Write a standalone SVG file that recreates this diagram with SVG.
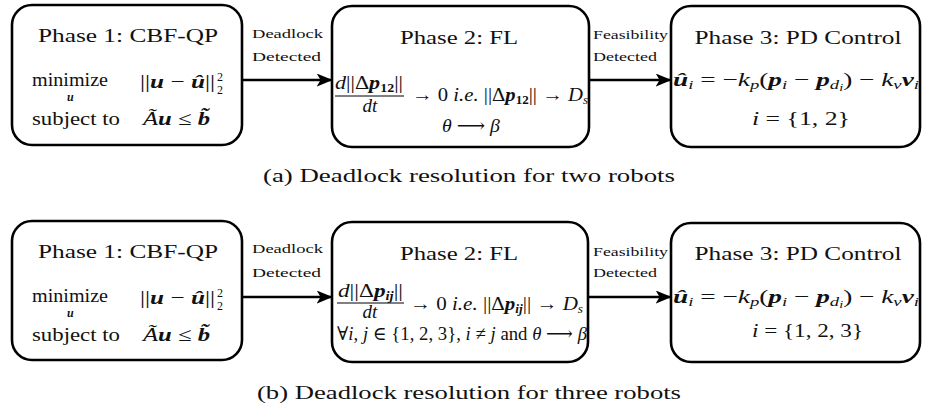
<svg xmlns="http://www.w3.org/2000/svg" width="925" height="407" viewBox="0 0 925 407" font-family="'Liberation Serif', 'DejaVu Serif', serif">
<defs>
<style>
text{fill:#111}
.box{fill:#fff;stroke:#000;stroke-width:2.6}
.ttl{font-size:19px;text-anchor:middle}
.lbl{font-size:13.5px}
.lbl2{font-size:12.5px}
.m{font-size:19px}
.it{font-style:italic}
.bi{font-style:italic;font-weight:bold}
.cap{font-size:19px;text-anchor:middle}
.conn{stroke:#000;stroke-width:2.6;fill:none}
</style>
<marker id="arr" viewBox="0 0 12 10" refX="11" refY="5" markerWidth="6" markerHeight="5" markerUnits="strokeWidth" orient="auto">
<path d="M0,0 L12,5 L0,10 L3,5 Z" fill="#000"/>
</marker>
</defs>
<rect width="925" height="407" fill="#fff"/>

<g id="connectors">
<line class="conn" x1="242" y1="80" x2="331" y2="80" marker-end="url(#arr)"/>
<line class="conn" x1="589" y1="80" x2="670" y2="80" marker-end="url(#arr)"/>
<line class="conn" x1="242" y1="297" x2="331" y2="297" marker-end="url(#arr)"/>
<line class="conn" x1="588" y1="297" x2="670" y2="297" marker-end="url(#arr)"/>
<text class="lbl" x="252" y="38" textLength="71" lengthAdjust="spacingAndGlyphs">Deadlock</text>
<text class="lbl" x="252" y="61" textLength="69" lengthAdjust="spacingAndGlyphs">Detected</text>
<text class="lbl2" x="593" y="39" textLength="75" lengthAdjust="spacingAndGlyphs">Feasibility</text>
<text class="lbl2" x="593" y="61" textLength="64" lengthAdjust="spacingAndGlyphs">Detected</text>
<text class="lbl" x="252" y="253" textLength="71" lengthAdjust="spacingAndGlyphs">Deadlock</text>
<text class="lbl" x="252" y="277" textLength="69" lengthAdjust="spacingAndGlyphs">Detected</text>
<text class="lbl2" x="593" y="256" textLength="75" lengthAdjust="spacingAndGlyphs">Feasibility</text>
<text class="lbl2" x="593" y="277" textLength="64" lengthAdjust="spacingAndGlyphs">Detected</text>
</g>

<g id="a-phase1">
<rect class="box" x="12" y="5" width="230" height="140" rx="20"/>
<text class="ttl" x="128" y="42" textLength="180" lengthAdjust="spacingAndGlyphs">Phase 1: CBF-QP</text>
<text class="m" x="32" y="86" textLength="76" lengthAdjust="spacingAndGlyphs">minimize</text>
<text class="bi" x="67" y="101" font-size="12">u</text>
<text class="m" x="140" y="88" textLength="75" lengthAdjust="spacingAndGlyphs">||<tspan class="bi">u</tspan> − <tspan class="bi">û</tspan>||</text>
<text x="217" y="81" font-size="12">2</text>
<text x="217" y="94" font-size="12">2</text>
<text class="m" x="32" y="125" textLength="88" lengthAdjust="spacingAndGlyphs">subject to</text>
<text class="m" x="143" y="125" textLength="67" lengthAdjust="spacingAndGlyphs"><tspan class="it">Ã</tspan><tspan class="bi">u</tspan> ≤ <tspan class="bi">b̃</tspan></text>
</g>

<g id="a-phase2">
<rect class="box" x="332" y="6" width="257" height="141" rx="20"/>
<text class="ttl" x="459" y="44" textLength="118" lengthAdjust="spacingAndGlyphs">Phase 2: FL</text>
<text class="m" x="335" y="89" font-size="17" textLength="68" lengthAdjust="spacingAndGlyphs"><tspan class="it">d</tspan>||Δ<tspan class="bi">p</tspan><tspan font-size="12" font-weight="bold" dy="3">12</tspan><tspan dy="-3">||</tspan></text>
<line x1="335" y1="96" x2="404" y2="96" stroke="#000" stroke-width="1"/>
<text class="m it" x="370" y="112" font-size="17" text-anchor="middle">dt</text>
<text class="m" x="412" y="101" font-size="17" textLength="176" lengthAdjust="spacingAndGlyphs">→ 0 <tspan class="it">i.e.</tspan> ||Δ<tspan class="bi">p</tspan><tspan font-size="12" font-weight="bold" dy="3">12</tspan><tspan dy="-3">|| → </tspan><tspan class="it">D</tspan><tspan class="it" font-size="12" dy="3">s</tspan></text>
<text class="m" x="442" y="132" textLength="58" lengthAdjust="spacingAndGlyphs"><tspan class="it">θ</tspan> ⟶ <tspan class="it">β</tspan></text>
</g>

<g id="a-phase3">
<rect class="box" x="671" y="6" width="249" height="141" rx="20"/>
<text class="ttl" x="798" y="44" textLength="207" lengthAdjust="spacingAndGlyphs">Phase 3: PD Control</text>
<text class="m" x="673" y="86" textLength="246" lengthAdjust="spacingAndGlyphs"><tspan class="bi">û</tspan><tspan class="it" font-size="13" dy="3">i</tspan><tspan dy="-3"> = −</tspan><tspan class="it">k</tspan><tspan class="it" font-size="13" dy="3">p</tspan><tspan dy="-3">(</tspan><tspan class="bi">p</tspan><tspan class="it" font-size="13" dy="3">i</tspan><tspan dy="-3"> − </tspan><tspan class="bi">p</tspan><tspan class="it" font-size="13" dy="3">d</tspan><tspan class="it" font-size="10" dy="2">i</tspan><tspan dy="-5">) − </tspan><tspan class="it">k</tspan><tspan class="it" font-size="13" dy="3">v</tspan><tspan class="bi" dy="-3">v</tspan><tspan class="it" font-size="13" dy="3">i</tspan></text>
<text class="m" x="752" y="125" font-size="20" textLength="98" lengthAdjust="spacingAndGlyphs"><tspan class="it">i</tspan> = {1, 2}</text>
</g>

<text class="cap" x="469" y="182" textLength="412" lengthAdjust="spacingAndGlyphs">(a) Deadlock resolution for two robots</text>

<g id="b-phase1">
<rect class="box" x="12" y="221" width="230" height="139" rx="20"/>
<text class="ttl" x="128" y="258" textLength="180" lengthAdjust="spacingAndGlyphs">Phase 1: CBF-QP</text>
<text class="m" x="32" y="302" textLength="76" lengthAdjust="spacingAndGlyphs">minimize</text>
<text class="bi" x="67" y="317" font-size="12">u</text>
<text class="m" x="140" y="304" textLength="75" lengthAdjust="spacingAndGlyphs">||<tspan class="bi">u</tspan> − <tspan class="bi">û</tspan>||</text>
<text x="217" y="297" font-size="12">2</text>
<text x="217" y="310" font-size="12">2</text>
<text class="m" x="32" y="341" textLength="88" lengthAdjust="spacingAndGlyphs">subject to</text>
<text class="m" x="143" y="341" textLength="67" lengthAdjust="spacingAndGlyphs"><tspan class="it">Ã</tspan><tspan class="bi">u</tspan> ≤ <tspan class="bi">b̃</tspan></text>
</g>

<g id="b-phase2">
<rect class="box" x="332" y="222" width="256" height="140" rx="20"/>
<text class="ttl" x="459" y="260" textLength="118" lengthAdjust="spacingAndGlyphs">Phase 2: FL</text>
<text class="m" x="338" y="297" font-size="17" textLength="65" lengthAdjust="spacingAndGlyphs"><tspan class="it">d</tspan>||Δ<tspan class="bi">p</tspan><tspan class="it" font-size="12" font-weight="bold" dy="3">ij</tspan><tspan dy="-3">||</tspan></text>
<line x1="337" y1="303" x2="404" y2="303" stroke="#000" stroke-width="1"/>
<text class="m it" x="370" y="318" font-size="15" text-anchor="middle">dt</text>
<text class="m" x="410" y="310" font-size="17" textLength="173" lengthAdjust="spacingAndGlyphs">→ 0 <tspan class="it">i.e.</tspan> ||Δ<tspan class="bi">p</tspan><tspan class="it" font-size="12" font-weight="bold" dy="3">ij</tspan><tspan dy="-3">|| → </tspan><tspan class="it">D</tspan><tspan class="it" font-size="12" dy="3">s</tspan></text>
<text class="m" x="337" y="340" font-size="15" textLength="250" lengthAdjust="spacingAndGlyphs">∀<tspan class="it">i</tspan>, <tspan class="it">j</tspan> ∈ {1, 2, 3}, <tspan class="it">i</tspan> ≠ <tspan class="it">j</tspan> and <tspan class="it">θ</tspan> ⟶ <tspan class="it">β</tspan></text>
</g>

<g id="b-phase3">
<rect class="box" x="671" y="223" width="249" height="139" rx="20"/>
<text class="ttl" x="798" y="260" textLength="207" lengthAdjust="spacingAndGlyphs">Phase 3: PD Control</text>
<text class="m" x="673" y="303" textLength="246" lengthAdjust="spacingAndGlyphs"><tspan class="bi">û</tspan><tspan class="it" font-size="13" dy="3">i</tspan><tspan dy="-3"> = −</tspan><tspan class="it">k</tspan><tspan class="it" font-size="13" dy="3">p</tspan><tspan dy="-3">(</tspan><tspan class="bi">p</tspan><tspan class="it" font-size="13" dy="3">i</tspan><tspan dy="-3"> − </tspan><tspan class="bi">p</tspan><tspan class="it" font-size="13" dy="3">d</tspan><tspan class="it" font-size="10" dy="2">i</tspan><tspan dy="-5">) − </tspan><tspan class="it">k</tspan><tspan class="it" font-size="13" dy="3">v</tspan><tspan class="bi" dy="-3">v</tspan><tspan class="it" font-size="13" dy="3">i</tspan></text>
<text class="m" x="752" y="337" font-size="20" textLength="111" lengthAdjust="spacingAndGlyphs"><tspan class="it">i</tspan> = {1, 2, 3}</text>
</g>

<text class="cap" x="469" y="399" textLength="424" lengthAdjust="spacingAndGlyphs">(b) Deadlock resolution for three robots</text>
</svg>
